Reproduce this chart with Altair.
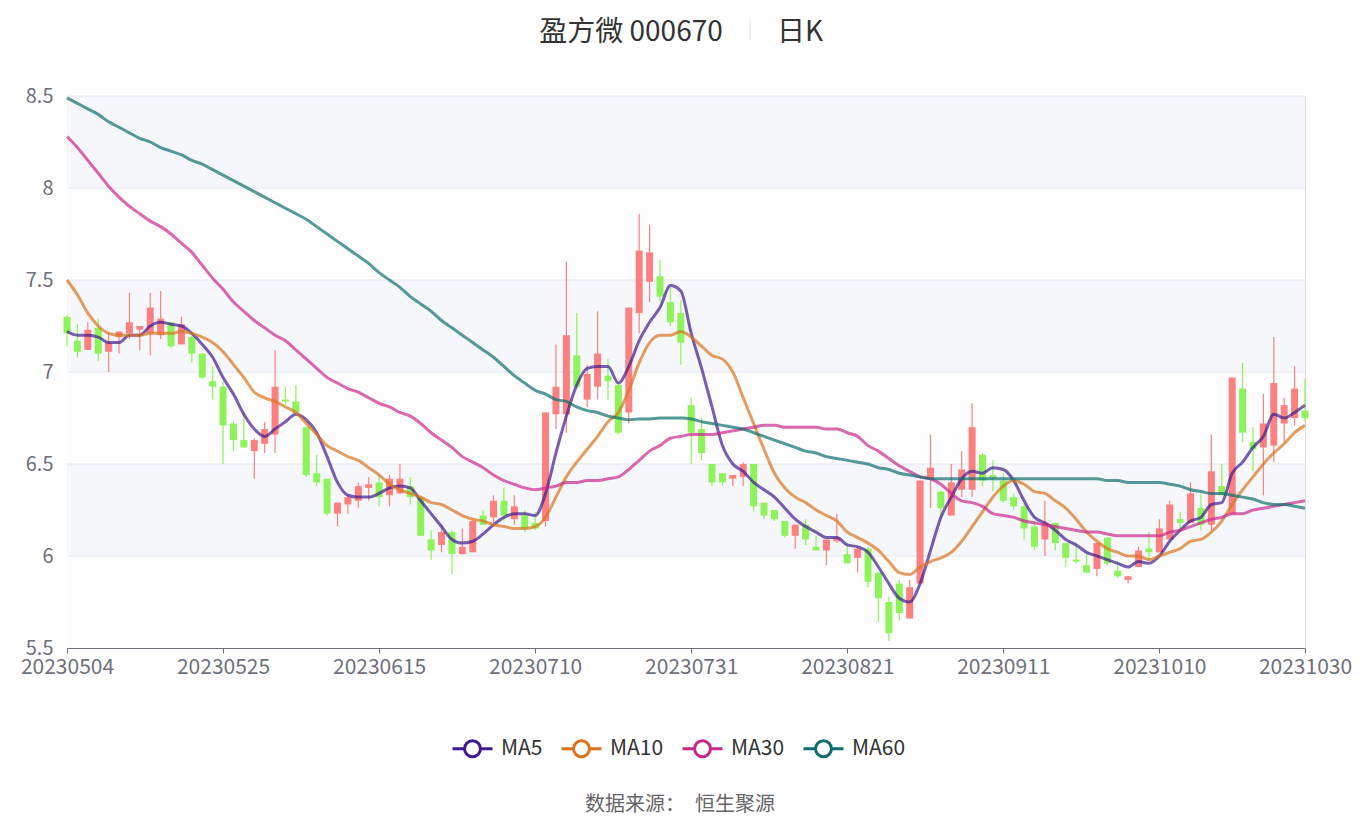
import altair as alt
import pandas as pd

# ---------------- data ----------------
holidays = {"2023-06-22", "2023-06-23", "2023-09-29", "2023-10-02", "2023-10-03",
            "2023-10-04", "2023-10-05", "2023-10-06"}
dates = [d.strftime("%Y%m%d") for d in pd.bdate_range("2023-05-04", "2023-10-30")
         if d.strftime("%Y-%m-%d") not in holidays]

open_ = [7.30, 7.17, 7.12, 7.24, 7.11, 7.19, 7.21, 7.23, 7.21, 7.20,
         7.27, 7.15, 7.19, 7.10, 6.95, 6.92, 6.72, 6.63, 6.57, 6.61,
         6.66, 6.85, 6.84, 6.70, 6.45, 6.42, 6.23, 6.28, 6.30, 6.37,
         6.40, 6.33, 6.34, 6.38, 6.32, 6.09, 6.06, 6.13, 6.01, 6.02,
         6.22, 6.21, 6.30, 6.20, 6.22, 6.18, 6.19, 6.77, 6.77, 7.09,
         6.85, 6.92, 6.98, 6.93, 6.78, 7.32, 7.49, 7.52, 7.38, 7.32,
         6.82, 6.69, 6.50, 6.45, 6.42, 6.43, 6.50, 6.29, 6.25, 6.19,
         6.11, 6.17, 6.05, 6.03, 6.08, 6.01, 5.99, 6.04, 5.91, 5.75,
         5.85, 5.66, 5.85, 6.42, 6.35, 6.22, 6.36, 6.36, 6.55, 6.44,
         6.41, 6.32, 6.27, 6.16, 6.09, 6.18, 6.07, 5.98, 5.95, 5.93,
         6.10, 5.92, 5.87, 5.94, 6.04, 6.02, 6.09, 6.20, 6.18, 6.26,
         6.17, 6.38, 6.23, 6.91, 6.62, 6.59, 6.60, 6.72, 6.75, 6.79]
close = [7.21, 7.11, 7.23, 7.10, 7.16, 7.22, 7.27, 7.25, 7.35, 7.29,
         7.14, 7.26, 7.10, 6.97, 6.92, 6.71, 6.63, 6.59, 6.63, 6.69,
         6.92, 6.84, 6.78, 6.44, 6.40, 6.23, 6.29, 6.32, 6.38, 6.39,
         6.32, 6.42, 6.42, 6.32, 6.11, 6.03, 6.13, 6.01, 6.05, 6.19,
         6.17, 6.30, 6.22, 6.27, 6.15, 6.15, 6.78, 6.92, 7.20, 6.92,
         6.99, 7.10, 6.95, 6.67, 7.35, 7.66, 7.65, 7.41, 7.27, 7.16,
         6.67, 6.56, 6.40, 6.40, 6.44, 6.50, 6.27, 6.22, 6.20, 6.11,
         6.17, 6.09, 6.03, 6.09, 6.10, 5.96, 6.04, 5.86, 5.77, 5.58,
         5.69, 5.83, 6.41, 6.48, 6.26, 6.40, 6.47, 6.70, 6.41, 6.42,
         6.30, 6.27, 6.15, 6.05, 6.18, 6.07, 5.99, 5.97, 5.91, 6.07,
         5.96, 5.89, 5.89, 6.03, 6.02, 6.15, 6.28, 6.18, 6.34, 6.17,
         6.46, 6.33, 6.97, 6.67, 6.58, 6.72, 6.94, 6.82, 6.91, 6.75]
high = [7.31, 7.26, 7.27, 7.29, 7.21, 7.22, 7.43, 7.25, 7.43, 7.44,
        7.27, 7.30, 7.20, 7.10, 7.03, 6.95, 6.73, 6.78, 6.64, 6.73,
        7.12, 6.92, 6.93, 6.70, 6.55, 6.42, 6.29, 6.33, 6.40, 6.43,
        6.44, 6.44, 6.50, 6.43, 6.32, 6.14, 6.17, 6.14, 6.15, 6.19,
        6.25, 6.33, 6.37, 6.33, 6.25, 6.24, 6.78, 7.15, 7.60, 7.32,
        7.04, 7.33, 7.07, 6.93, 7.35, 7.86, 7.80, 7.61, 7.46, 7.39,
        6.86, 6.75, 6.50, 6.45, 6.44, 6.51, 6.50, 6.29, 6.25, 6.19,
        6.17, 6.20, 6.11, 6.09, 6.23, 6.07, 6.05, 6.05, 5.91, 5.78,
        5.87, 5.87, 6.41, 6.66, 6.35, 6.50, 6.57, 6.83, 6.56, 6.52,
        6.45, 6.34, 6.29, 6.19, 6.30, 6.18, 6.07, 6.07, 6.02, 6.07,
        6.10, 5.97, 5.89, 6.05, 6.13, 6.20, 6.30, 6.24, 6.40, 6.34,
        6.66, 6.50, 6.97, 7.05, 6.70, 6.88, 7.19, 6.86, 7.03, 6.96]
low = [7.14, 7.08, 7.12, 7.06, 7.00, 7.10, 7.18, 7.12, 7.09, 7.18,
       7.13, 7.15, 7.05, 6.96, 6.85, 6.50, 6.57, 6.59, 6.42, 6.56,
       6.56, 6.82, 6.78, 6.43, 6.38, 6.22, 6.16, 6.23, 6.26, 6.30,
       6.27, 6.27, 6.34, 6.28, 6.11, 5.98, 6.02, 5.90, 6.01, 6.02,
       6.17, 6.18, 6.19, 6.17, 6.13, 6.14, 6.16, 6.69, 6.67, 6.91,
       6.81, 6.85, 6.85, 6.66, 6.72, 7.21, 7.38, 7.38, 7.25, 7.04,
       6.50, 6.52, 6.38, 6.38, 6.38, 6.38, 6.24, 6.20, 6.19, 6.10,
       6.04, 6.06, 6.03, 5.95, 6.07, 5.96, 5.91, 5.83, 5.64, 5.54,
       5.65, 5.66, 5.85, 6.26, 6.21, 6.22, 6.32, 6.32, 6.38, 6.35,
       6.29, 6.25, 6.09, 6.03, 6.00, 6.03, 5.94, 5.96, 5.91, 5.89,
       5.95, 5.88, 5.85, 5.94, 5.98, 6.02, 6.09, 6.14, 6.18, 6.14,
       6.14, 6.33, 6.23, 6.62, 6.46, 6.33, 6.51, 6.62, 6.71, 6.73]

ma5 = [7.22, 7.20, 7.20, 7.19, 7.16, 7.16, 7.20, 7.20, 7.25, 7.27,
       7.26, 7.25, 7.21, 7.15, 7.08, 6.97, 6.88, 6.77, 6.69, 6.65,
       6.69, 6.73, 6.77, 6.74, 6.67, 6.54, 6.40, 6.33, 6.32, 6.32,
       6.34, 6.37, 6.38, 6.37, 6.30, 6.23, 6.16, 6.09, 6.07, 6.08,
       6.12, 6.17, 6.21, 6.23, 6.23, 6.22, 6.34, 6.56, 6.76, 6.93,
       7.02, 7.03, 7.03, 6.94, 7.03, 7.17, 7.27, 7.35, 7.47, 7.44,
       7.21, 7.02, 6.81, 6.60, 6.50, 6.46, 6.40, 6.36, 6.32, 6.26,
       6.20, 6.16, 6.13, 6.10, 6.10, 6.06, 6.05, 6.02, 5.94, 5.85,
       5.77, 5.75, 5.85, 6.03, 6.21, 6.32, 6.42, 6.46, 6.45, 6.48,
       6.47, 6.41, 6.30, 6.21, 6.18, 6.14, 6.09, 6.06, 6.02, 6.00,
       5.98, 5.96, 5.94, 5.97, 5.96, 6.00, 6.08, 6.14, 6.19, 6.21,
       6.28, 6.29, 6.45, 6.51, 6.59, 6.65, 6.77, 6.75, 6.78, 6.82]
ma10 = [7.50, 7.42, 7.32, 7.25, 7.21, 7.20, 7.20, 7.20, 7.21, 7.21,
        7.21, 7.22, 7.21, 7.19, 7.16, 7.11, 7.04, 6.97, 6.89, 6.86,
        6.84, 6.81, 6.78, 6.72, 6.66, 6.60, 6.57, 6.54, 6.52, 6.48,
        6.44, 6.39, 6.36, 6.34, 6.32, 6.29, 6.28, 6.25, 6.22, 6.20,
        6.19, 6.17, 6.16, 6.15, 6.15, 6.16, 6.21, 6.32, 6.43, 6.51,
        6.58, 6.65, 6.73, 6.78, 6.90, 7.05, 7.16, 7.20, 7.20, 7.22,
        7.19, 7.14, 7.09, 7.07, 7.00, 6.86, 6.72, 6.58, 6.45, 6.37,
        6.32, 6.29, 6.25, 6.22, 6.19, 6.13, 6.10, 6.07, 6.03, 5.97,
        5.91, 5.90, 5.94, 5.97, 5.99, 6.02, 6.08, 6.16, 6.24, 6.32,
        6.38, 6.41, 6.39, 6.35, 6.34, 6.30, 6.26, 6.20, 6.13, 6.08,
        6.04, 6.02, 6.00, 6.00, 5.98, 6.00, 6.02, 6.04, 6.08, 6.09,
        6.13, 6.19, 6.28, 6.36, 6.43, 6.50, 6.56, 6.61, 6.67, 6.71]
ma30 = [8.28, 8.22, 8.15, 8.08, 8.01, 7.95, 7.90, 7.86, 7.82, 7.79,
        7.75, 7.70, 7.65, 7.58, 7.51, 7.45, 7.38, 7.33, 7.28, 7.24,
        7.20, 7.17, 7.12, 7.07, 7.02, 6.97, 6.94, 6.91, 6.89, 6.86,
        6.83, 6.81, 6.78, 6.76, 6.72, 6.67, 6.63, 6.59, 6.54, 6.51,
        6.48, 6.44, 6.41, 6.39, 6.37, 6.36, 6.37, 6.38, 6.40, 6.40,
        6.41, 6.41, 6.42, 6.43, 6.47, 6.52, 6.57, 6.60, 6.64, 6.65,
        6.66, 6.66, 6.66, 6.67, 6.68, 6.69, 6.70, 6.71, 6.71, 6.70,
        6.70, 6.70, 6.70, 6.69, 6.69, 6.67, 6.65, 6.60, 6.57, 6.53,
        6.49, 6.46, 6.43, 6.42, 6.39, 6.34, 6.30, 6.29, 6.27, 6.23,
        6.22, 6.21, 6.19, 6.18, 6.17, 6.16, 6.15, 6.14, 6.13, 6.13,
        6.12, 6.11, 6.11, 6.11, 6.11, 6.11, 6.13, 6.14, 6.16, 6.18,
        6.20, 6.21, 6.23, 6.23, 6.25, 6.26, 6.27, 6.28, 6.29, 6.30]
ma60 = [8.49, 8.46, 8.43, 8.40, 8.36, 8.33, 8.30, 8.27, 8.25, 8.22,
        8.20, 8.18, 8.15, 8.13, 8.10, 8.07, 8.04, 8.01, 7.98, 7.95,
        7.92, 7.89, 7.86, 7.83, 7.79, 7.75, 7.71, 7.67, 7.63, 7.59,
        7.54, 7.50, 7.46, 7.41, 7.37, 7.33, 7.28, 7.24, 7.20, 7.16,
        7.12, 7.08, 7.03, 6.98, 6.94, 6.90, 6.88, 6.85, 6.84, 6.81,
        6.79, 6.78, 6.76, 6.75, 6.74, 6.745, 6.745, 6.75, 6.75, 6.75,
        6.745, 6.73, 6.72, 6.71, 6.70, 6.69, 6.67, 6.65, 6.63, 6.61,
        6.59, 6.57, 6.56, 6.54, 6.53, 6.52, 6.51, 6.50, 6.48, 6.47,
        6.45, 6.44, 6.43, 6.42, 6.42, 6.42, 6.42, 6.42, 6.42, 6.42,
        6.42, 6.42, 6.42, 6.42, 6.42, 6.42, 6.42, 6.42, 6.42, 6.42,
        6.41, 6.41, 6.40, 6.40, 6.40, 6.40, 6.39, 6.38, 6.36, 6.35,
        6.34, 6.34, 6.33, 6.32, 6.31, 6.29, 6.28, 6.28, 6.27, 6.26]

ma_names = ["MA5", "MA10", "MA30", "MA60"]
ma_colors = ["#3f1a8f", "#d9731c", "#c9288b", "#0e6e6e"]
y_ticks = [5.5, 6, 6.5, 7, 7.5, 8, 8.5]
x_label_idx = [0, 15, 30, 45, 60, 75, 90, 105, 119]
x_labels = [dates[i] for i in x_label_idx]

UP = "#fd8080"
DOWN = "#8ef25a"
AXIS_GRAY = "#6E7079"
FONT = "Noto Sans CJK SC"

# ---------------- tables ----------------
candles = pd.DataFrame({"date": dates, "open": open_, "close": close,
                        "high": high, "low": low})
ma_df = pd.concat([pd.DataFrame({"date": dates, "value": v, "ma": n})
                   for n, v in zip(ma_names, [ma5, ma10, ma30, ma60])])
bands = pd.DataFrame({"y0": y_ticks[:-1], "y1": y_ticks[1:],
                      "k": list(range(len(y_ticks) - 1))})
grid = pd.DataFrame({"y": y_ticks[1:]})

yscale = alt.Scale(domain=[5.5, 8.5], nice=False, zero=False)
xscale = alt.Scale(type="point", padding=0)

xaxis = alt.Axis(values=x_labels, title=None, labelAngle=0, grid=False,
                 domainColor=AXIS_GRAY, tickColor=AXIS_GRAY, tickSize=5,
                 labelColor=AXIS_GRAY, labelFontSize=21, labelFont=FONT,
                 labelPadding=3, labelOverlap=False)
yaxis = alt.Axis(values=y_ticks, format="~g", title=None, domain=False,
                 ticks=False, grid=False, labelPadding=14, labelColor=AXIS_GRAY,
                 labelFontSize=20, labelFont=FONT)

band_layer = alt.Chart(bands).mark_rect().encode(
    y=alt.Y("y0:Q", scale=yscale, axis=yaxis),
    y2="y1:Q",
    fill=alt.condition("datum.k % 2 == 1", alt.value("#f6f7fb"), alt.value("#fdfdfe")),
)
grid_layer = alt.Chart(grid).mark_rule(color="#E0E6F1", strokeWidth=1).encode(
    y=alt.Y("y:Q", scale=yscale, axis=yaxis)
)

cond_color = alt.condition("datum.close >= datum.open", alt.value(UP), alt.value(DOWN))

wick = alt.Chart(candles).mark_rule(strokeWidth=1.2).encode(
    x=alt.X("date:O", scale=xscale, axis=xaxis),
    y=alt.Y("low:Q", scale=yscale, axis=yaxis),
    y2="high:Q",
    color=cond_color,
)
body = alt.Chart(candles).mark_bar(size=7).encode(
    x=alt.X("date:O", scale=xscale, axis=xaxis),
    y=alt.Y("open:Q", scale=yscale, axis=yaxis),
    y2="close:Q",
    color=cond_color,
)

legend_path = ("M-1,0L-0.4,0M0.4,0L1,0M-0.4,0A0.4,0.4 0 1,0 0.4,0"
               "A0.4,0.4 0 1,0 -0.4,0Z")
lines = alt.Chart(ma_df).mark_line(strokeWidth=3, opacity=0.7, interpolate="monotone").encode(
    x=alt.X("date:O", scale=xscale, axis=xaxis),
    y=alt.Y("value:Q", scale=yscale, axis=yaxis),
    color=alt.Color("ma:N", scale=alt.Scale(domain=ma_names, range=ma_colors),
                    sort=ma_names,
                    legend=alt.Legend(orient="none", legendX=384, legendY=631,
                                      direction="horizontal", title=None,
                                      symbolType=legend_path, symbolSize=1600,
                                      symbolStrokeWidth=3, symbolFillColor="white",
                                      symbolOpacity=1, labelFontSize=21,
                                      labelFont=FONT, labelColor="#333333",
                                      labelOffset=7, columnPadding=12,
                                      padding=0)),
)

title1 = alt.Chart(pd.DataFrame({"t": ["盈方微 000670"]})).mark_text(
    fontSize=28, font=FONT, color="#333333", baseline="middle", align="center").encode(
    text="t:N", x=alt.value(564), y=alt.value(-63.5))
title2 = alt.Chart(pd.DataFrame({"t": ["日K"]})).mark_text(
    fontSize=28, font=FONT, color="#333333", baseline="middle", align="center").encode(
    text="t:N", x=alt.value(733), y=alt.value(-63.5))
sep = alt.Chart(pd.DataFrame({"t": [0]})).mark_rule(color="#e6e6e6", strokeWidth=1).encode(
    x=alt.value(683), y=alt.value(-79), y2=alt.value(-55))
footer = alt.Chart(pd.DataFrame({"t": ["数据来源：　恒生聚源"]})).mark_text(
    fontSize=20, font=FONT, color="#666666", baseline="middle", align="center").encode(
    text="t:N", x=alt.value(613), y=alt.value(709))

chart = alt.layer(band_layer, grid_layer, wick, body, lines, title1, title2, sep, footer).properties(
    width=1238, height=552,
    autosize=alt.AutoSizeParams(type="none"),
    padding={"left": 59, "top": 88, "right": 47, "bottom": 172},
).configure_view(stroke=None).configure(background="white")

chart.save("out.html", embed_options={"renderer": "svg", "actions": False})
